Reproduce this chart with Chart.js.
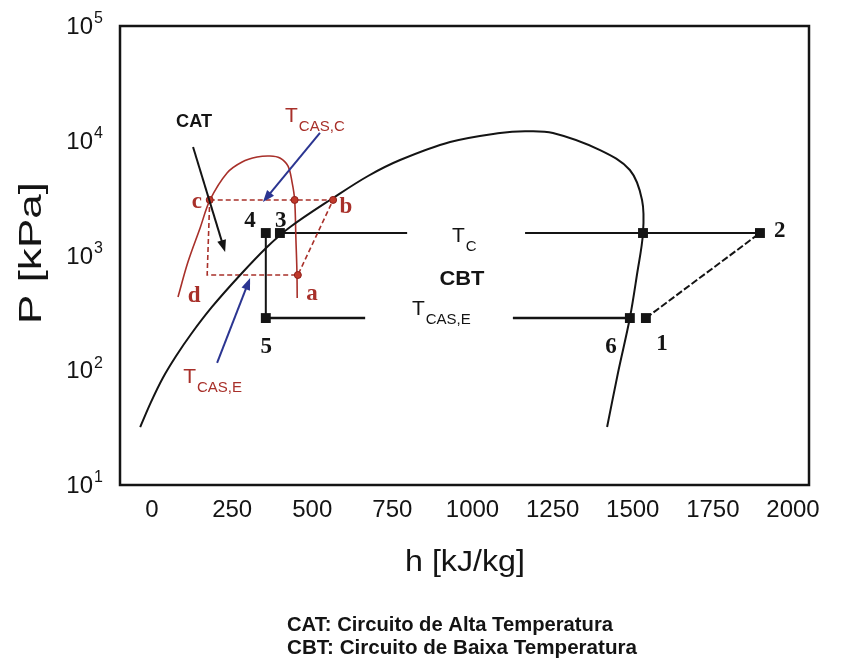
<!DOCTYPE html>
<html>
<head>
<meta charset="utf-8">
<title>Diagrama P-h</title>
<script src="https://cdn.jsdelivr.net/npm/chart.js"></script>
<style>
  body { margin: 0; background: #fff; }
  #box { width: 843px; height: 664px; }
</style>
</head>
<body>
<div id="box"><canvas id="ph" width="843" height="664"></canvas></div>
<script>
// ticks dos eixos
var hTicks = [0, 250, 500, 750, 1000, 1250, 1500, 1750, 2000];
var pTicks = [10, 100, 1000, 10000, 100000];
var pExp = ['1', '2', '3', '4', '5'];

// campana de saturacao (CBT, preta)
var nh3H = [-37, -3, 34, 75, 122, 187, 275, 359, 431, 565, 674, 774, 930, 1086, 1164, 1251, 1398, 1491, 1529, 1532, 1513, 1491, 1454, 1420];
var nh3P = [32, 53, 86, 133, 207, 356, 676, 1186, 1770, 3170, 4930, 6790, 9750, 11700, 12100, 11700, 8300, 5560, 3050, 1570, 676, 285, 95, 32];

// campana de saturacao (CAT, vermelha)
var co2H = [81, 112, 150, 181, 234, 281, 328, 368, 399, 424, 437, 445, 449, 452, 453];
var co2P = [435, 877, 1738, 3050, 5240, 6530, 7210, 7360, 7080, 6030, 4340, 3050, 1365, 748, 427];

// ciclo CAT tracejado: c -> b -> a -> d -> c
var catH = [180, 565, 455, 172, 180];
var catP = [3050, 3050, 676, 676, 3050];
var catPtsH = [180, 445, 565, 455];
var catPtsP = [3050, 3050, 3050, 676];

// ciclo CBT
var tcLeftH = [399, 796];
var tcRightH = [1164, 1897];
var tcP = [1570, 1570];
var teLeftH = [355, 665];
var teRightH = [1126, 1491];
var teP = [285, 285];
var expH = [355, 355];
var expP = [1570, 285];
var compH = [1541, 1897];
var compP = [285, 1570];
// pontos 4, 3, sat., 2, 5, 6, 1
var cbtPtsH = [355, 399, 1532, 1897, 355, 1491, 1541];
var cbtPtsP = [1570, 1570, 1570, 1570, 285, 285, 285];

var red = '#a8302a';
var blue = '#2b3591';
var ink = '#141414';

function pts(hs, ps) {
    return hs.map(function (h, i) { return { x: h, y: ps[i] }; });
}

function line(hs, ps, color, width, dash, tension) {
    return {
        data: pts(hs, ps),
        borderColor: color,
        borderWidth: width,
        borderDash: dash || [],
        tension: tension || 0,
        pointRadius: 0,
        fill: false
    };
}

function text(ctx, s, x, y, font, color, align, w, base) {
    ctx.save();
    ctx.font = font;
    ctx.fillStyle = color;
    ctx.textAlign = align || 'center';
    ctx.textBaseline = base || 'middle';
    var k = 1;
    if (w) k = w / ctx.measureText(s).width;
    ctx.translate(x, y);
    ctx.scale(k, 1);
    ctx.fillText(s, 0, 0);
    ctx.restore();
}

// T com subscrito
function tsub(ctx, sub, x, y, color) {
    ctx.save();
    ctx.fillStyle = color;
    ctx.textBaseline = 'alphabetic';
    ctx.textAlign = 'left';
    ctx.font = '21px "Liberation Sans"';
    ctx.fillText('T', x, y);
    var w = ctx.measureText('T').width;
    ctx.font = '15px "Liberation Sans"';
    ctx.fillText(sub, x + w + 1, y + 9);
    ctx.restore();
}

function arrow(ctx, x1, y1, x2, y2, color) {
    var ang = Math.atan2(y2 - y1, x2 - x1);
    var c = Math.cos(ang), s = Math.sin(ang);
    var L = 12, W = 4.5;
    ctx.save();
    ctx.strokeStyle = color;
    ctx.fillStyle = color;
    ctx.lineWidth = 2;
    ctx.beginPath();
    ctx.moveTo(x1, y1);
    ctx.lineTo(x2 - L * 0.8 * c, y2 - L * 0.8 * s);
    ctx.stroke();
    ctx.beginPath();
    ctx.moveTo(x2, y2);
    ctx.lineTo(x2 - L * c + W * s, y2 - L * s - W * c);
    ctx.lineTo(x2 - L * c - W * s, y2 - L * s + W * c);
    ctx.closePath();
    ctx.fill();
    ctx.restore();
}

var serif = 'bold 23px "Liberation Serif"';
// rotulos: texto, h, P (linha de base), fonte, cor, largura
var notes = [
    ['CAT', 131, 13180, 'bold 18px "Liberation Sans"', ink, 36],
    ['CBT', 967, 553, 'bold 20px "Liberation Sans"', ink, 45],
    ['c', 140, 2594, serif, red],
    ['b', 605, 2344, serif, red],
    ['a', 499, 409, serif, red],
    ['d', 131, 393, serif, red],
    ['4', 306, 1771, serif, ink],
    ['3', 402, 1771, serif, ink],
    ['5', 356, 141, serif, ink],
    ['6', 1432, 141, serif, ink],
    ['1', 1591, 150, serif, ink],
    ['2', 1959, 1449, serif, ink]
];
// T subscritos: texto, h, P, cor
var temps = [
    ['CAS,C', 415, 14550, red],
    ['C', 936, 1313, ink],
    ['CAS,E', 811, 303, ink],
    ['CAS,E', 97, 77, red]
];
// setas: h1, P1, h2, P2, cor
var arrows = [
    [524, 11700, 346, 2920, blue],
    [128, 8830, 228, 1072, ink],
    [203, 116, 306, 637, blue]
];

var phDraw = {
    id: 'phDraw',
    afterDraw: function (chart) {
        var ctx = chart.ctx, a = chart.chartArea;
        var xs = chart.scales.x, ys = chart.scales.y;
        var X = function (h) { return xs.getPixelForValue(h); };
        var Y = function (p) { return ys.getPixelForValue(p); };

        // moldura
        ctx.save();
        ctx.strokeStyle = ink;
        ctx.lineWidth = 2.5;
        ctx.strokeRect(a.left, a.top, a.right - a.left, a.bottom - a.top);
        ctx.restore();

        xs.ticks.forEach(function (t) {
            text(ctx, String(t.value), X(t.value), a.bottom + 25, '24px "Liberation Sans"', ink, 'center');
        });
        ys.ticks.forEach(function (t, i) {
            var y = Y(t.value);
            text(ctx, '10', a.left - 27, y + 1.5, '24px "Liberation Sans"', ink, 'right');
            text(ctx, pExp[i], a.left - 26, y - 7, '16px "Liberation Sans"', ink, 'left');
        });

        // titulos dos eixos
        text(ctx, 'h [kJ/kg]', 465, 563, '30px "Liberation Sans"', ink, 'center', 120);
        ctx.save();
        ctx.translate(32, 253);
        ctx.rotate(-Math.PI / 2);
        text(ctx, 'P [kPa]', 0, 0, '32px "Liberation Sans"', ink, 'center', 142);
        ctx.restore();

        arrows.forEach(function (r) {
            arrow(ctx, X(r[0]), Y(r[1]), X(r[2]), Y(r[3]), r[4]);
        });
        notes.forEach(function (n) {
            text(ctx, n[0], X(n[1]), Y(n[2]), n[3], n[4], 'center', n[5], 'alphabetic');
        });
        temps.forEach(function (t) {
            tsub(ctx, t[0], X(t[1]), Y(t[2]), t[3]);
        });

        // legenda inferior
        text(ctx, 'CAT: Circuito de Alta Temperatura', 287, 625, 'bold 21px "Liberation Sans"', ink, 'left', 326);
        text(ctx, 'CBT: Circuito de Baixa Temperatura', 287, 648, 'bold 21px "Liberation Sans"', ink, 'left', 350);
    }
};

var blackPts = {
    data: pts(cbtPtsH, cbtPtsP),
    showLine: false,
    pointStyle: 'rect',
    pointRadius: 7,
    pointBackgroundColor: ink,
    pointBorderColor: ink,
    pointBorderWidth: 0
};
var redPts = {
    data: pts(catPtsH, catPtsP),
    showLine: false,
    pointStyle: 'circle',
    pointRadius: 3.5,
    pointBackgroundColor: '#c0392b',
    pointBorderColor: '#8e1f1a',
    pointBorderWidth: 1
};

new Chart(document.getElementById('ph'), {
    type: 'line',
    data: {
        datasets: [
            blackPts,
            redPts,
            line(nh3H, nh3P, ink, 2, null, 0.35),
            line(co2H, co2P, red, 1.6, null, 0.35),
            line(catH, catP, red, 1.6, [5, 3]),
            line(tcLeftH, tcP, ink, 2),
            line(tcRightH, tcP, ink, 2),
            line(teLeftH, teP, ink, 2.4),
            line(teRightH, teP, ink, 2.4),
            line(expH, expP, ink, 2),
            line(compH, compP, ink, 2, [7, 2.5])
        ]
    },
    options: {
        responsive: false,
        animation: false,
        devicePixelRatio: 1,
        layout: { padding: { left: 0, top: 26, right: 34, bottom: 0 } },
        plugins: {
            legend: { display: false },
            tooltip: { enabled: false }
        },
        scales: {
            x: {
                type: 'linear',
                min: -100,
                max: 2050,
                afterBuildTicks: function (s) { s.ticks = hTicks.map(function (v) { return { value: v }; }); },
                afterFit: function (s) { s.height = 179; },
                ticks: { display: false },
                grid: { display: false },
                border: { display: false }
            },
            y: {
                type: 'logarithmic',
                min: 10,
                max: 100000,
                afterBuildTicks: function (s) { s.ticks = pTicks.map(function (v) { return { value: v }; }); },
                afterFit: function (s) { s.width = 120; },
                ticks: { display: false },
                grid: { display: false },
                border: { display: false }
            }
        }
    },
    plugins: [phDraw]
});
</script>
</body>
</html>
